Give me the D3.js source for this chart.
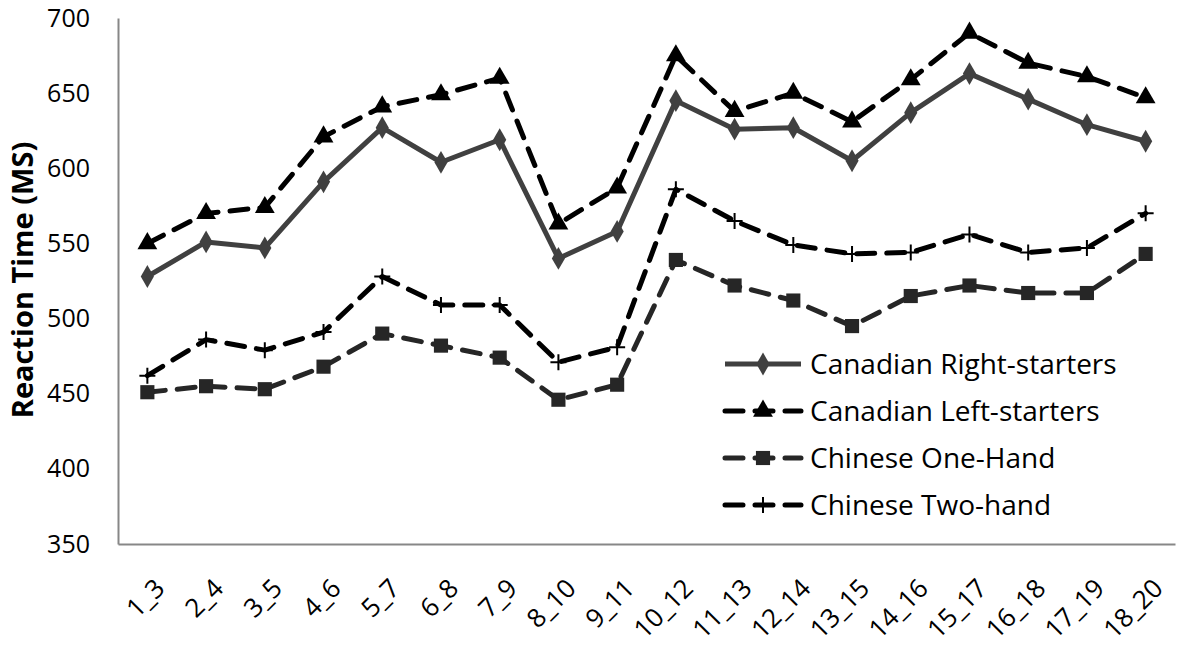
<!DOCTYPE html>
<html>
<head>
<meta charset="utf-8">
<script src="https://cdn.jsdelivr.net/npm/d3@7"></script>
<style>
  html, body { margin: 0; padding: 0; background: #fff; }
  svg text { font-family: "Open Sans", sans-serif; }
</style>
</head>
<body>
<svg id="chart" width="1181" height="662"></svg>
<script>
const categories = ["1_3","2_4","3_5","4_6","5_7","6_8","7_9","8_10","9_11","10_12","11_13","12_14","13_15","14_16","15_17","16_18","17_19","18_20"];
const canadianRight = [528,551,547,591,627,604,619,540,558,645,626,627,605,637,663,646,629,618];
const canadianLeft  = [550,570,574,621,641,649,660,563,587,675,638,650,631,659,690,670,661,647];
const chineseOne    = [451,455,453,468,490,482,474,446,456,539,522,512,495,515,522,517,517,543];
const chineseTwo    = [462,486,479,491,528,509,509,471,481,586,565,549,543,544,556,544,547,570];
const yTicks = [350,400,450,500,550,600,650,700];
const seriesNames = ["Canadian Right-starters","Canadian Left-starters","Chinese One-Hand","Chinese Two-hand"];

const svg = d3.select("#chart");
const mLeft = 118, mRight = 1175, mTop = 18, mBottom = 544;

const x = d3.scaleBand().domain(categories).range([mLeft, mRight]);
const y = d3.scaleLinear().domain([350, 700]).range([mBottom, mTop]);
const cx = d => x(d) + x.bandwidth() / 2;

const series = [
  { name: seriesNames[0], values: canadianRight, color: "#404040", dash: null, marker: "diamond" },
  { name: seriesNames[1], values: canadianLeft,  color: "#000000", dash: "18,12", marker: "triangle" },
  { name: seriesNames[2], values: chineseOne,    color: "#262626", dash: "18,12", marker: "square" },
  { name: seriesNames[3], values: chineseTwo,    color: "#000000", dash: "18,12", marker: "plus" }
];

// axes
const yAxis = d3.axisLeft(y).tickValues(yTicks).tickSize(0).tickPadding(28);
const gy = svg.append("g").attr("transform", `translate(${mLeft},0)`).call(yAxis);
gy.select(".domain").attr("stroke", "#878787").attr("stroke-width", 2);
gy.selectAll("text").attr("font-size", 25).attr("fill", "#000");

const xAxis = d3.axisBottom(x).tickSize(0).tickPadding(0);
const gx = svg.append("g").attr("transform", `translate(0,${mBottom})`).call(xAxis);
gx.select(".domain").attr("stroke", "#878787").attr("stroke-width", 2);
gx.selectAll("text")
  .attr("font-size", 26).attr("fill", "#000")
  .attr("text-anchor", "end")
  .attr("dy", 0)
  .attr("transform", "translate(19,46) rotate(-45)");

// y title
svg.append("text")
  .attr("transform", `translate(33,280) rotate(-90)`)
  .attr("text-anchor", "middle")
  .attr("font-size", 29).attr("font-weight", "bold")
  .text("Reaction Time (MS)");

const line = d3.line().x((d, i) => cx(categories[i])).y(d => y(d));

function drawMarker(g, type, px, py, color) {
  if (type === "diamond") {
    g.append("path").attr("d", d3.symbol(d3.symbolDiamond, 150)()).attr("transform", `translate(${px},${py})`)
      .attr("fill", color);
  } else if (type === "triangle") {
    g.append("path").attr("d", d3.symbol(d3.symbolTriangle, 170)()).attr("transform", `translate(${px},${py})`)
      .attr("fill", color);
  } else if (type === "square") {
    g.append("path").attr("d", d3.symbol(d3.symbolSquare, 200)()).attr("transform", `translate(${px},${py})`)
      .attr("fill", color);
  } else if (type === "plus") {
    g.append("path").attr("d", `M${px-8},${py}H${px+8}M${px},${py-8}V${py+8}`)
      .attr("stroke", color).attr("stroke-width", 2);
  }
}

series.forEach(s => {
  svg.append("path").datum(s.values)
    .attr("d", line).attr("fill", "none")
    .attr("stroke", s.color).attr("stroke-width", 5)
    .attr("stroke-dasharray", s.dash)
    .attr("stroke-linecap", s.dash ? "round" : "butt")
    .attr("stroke-linejoin", "round");
  const g = svg.append("g");
  s.values.forEach((v, i) => drawMarker(g, s.marker, cx(categories[i]), y(v), s.color));
});

// legend
const legY = [364, 411, 458, 505];
series.forEach((s, i) => {
  const g = svg.append("g");
  const ly = legY[i];
  g.append("line").attr("x1", 725).attr("x2", 801).attr("y1", ly).attr("y2", ly)
    .attr("stroke", s.color).attr("stroke-width", 5)
    .attr("stroke-dasharray", s.dash ? "18,12" : null)
    .attr("stroke-linecap", s.dash ? "round" : "butt");
  drawMarker(g, s.marker, 763, ly, s.color);
  g.append("text").attr("x", 810).attr("y", ly).attr("dy", "0.36em")
    .attr("font-size", 28).attr("fill", "#000").text(s.name);
});
</script>
</body>
</html>
